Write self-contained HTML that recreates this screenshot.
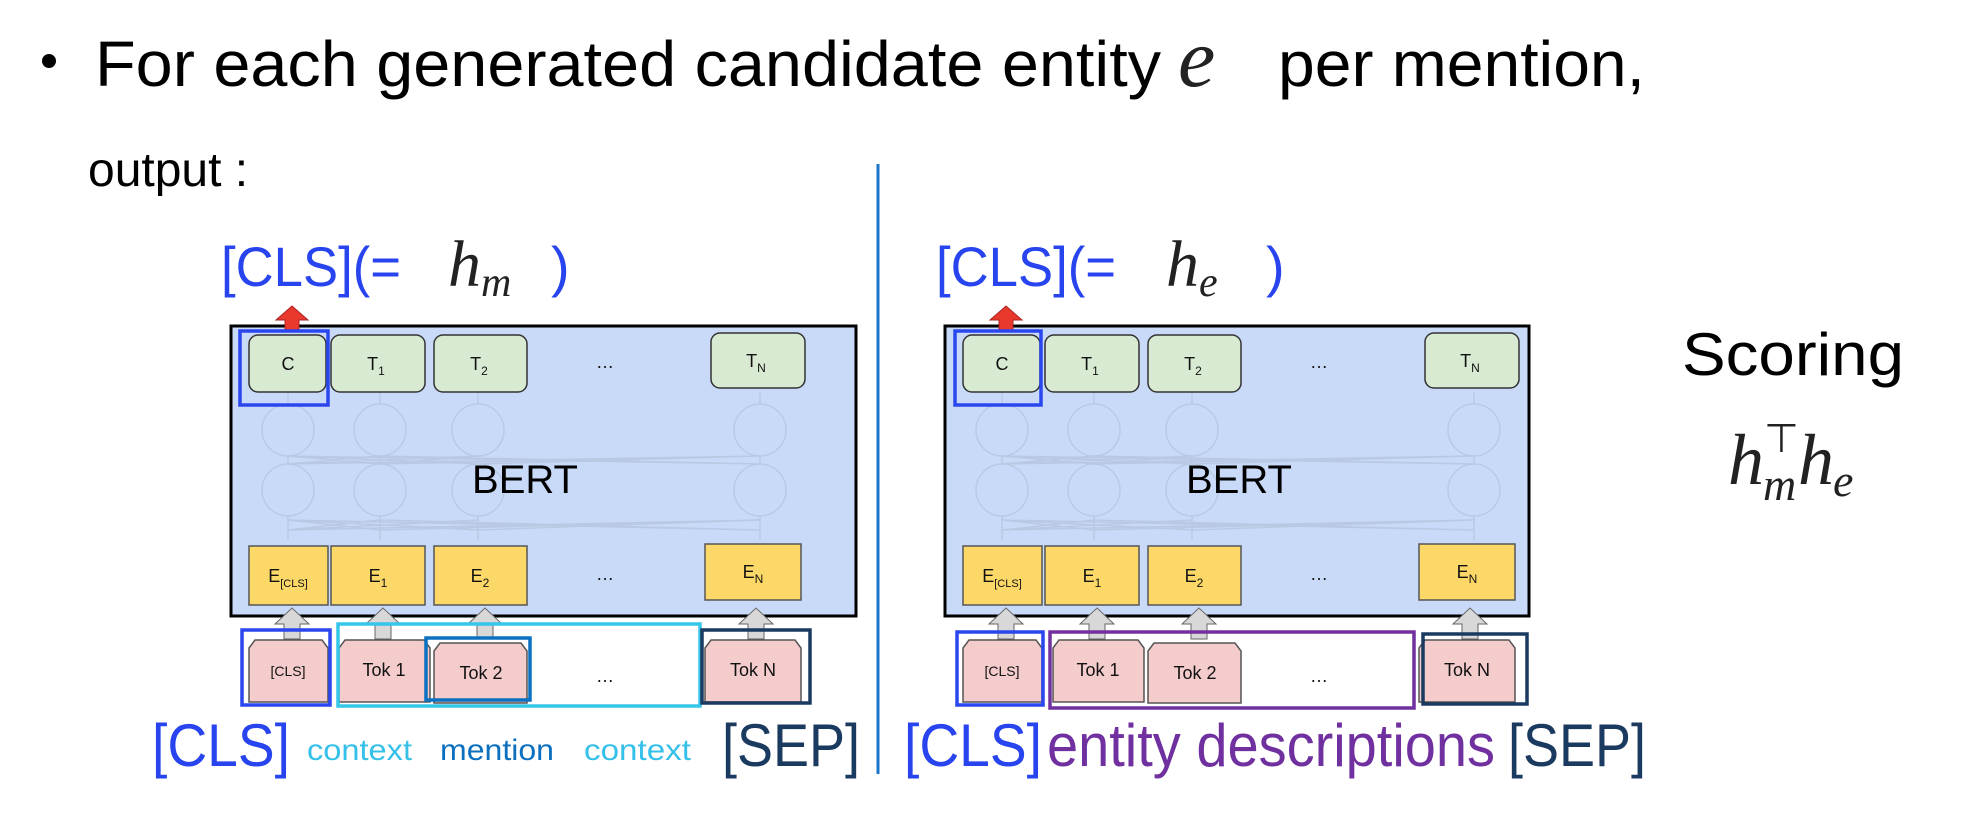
<!DOCTYPE html>
<html><head><meta charset="utf-8"><style>
html,body{margin:0;padding:0;background:#fff;}
svg{display:block;}
text{font-family:"Liberation Sans",sans-serif;}
.serif{font-family:"Liberation Serif",serif;font-style:italic;}
</style></head><body>
<svg width="1974" height="814" viewBox="0 0 1974 814" xmlns="http://www.w3.org/2000/svg">
<defs>
<g id="panel">
  <g fill="none" stroke="#b7c6de" stroke-width="1.5" opacity="0.8">
    <circle cx="288" cy="430" r="26"/><circle cx="380" cy="430" r="26"/><circle cx="478" cy="430" r="26"/><circle cx="760" cy="430" r="26"/>
    <circle cx="288" cy="490" r="26"/><circle cx="380" cy="490" r="26"/><circle cx="478" cy="490" r="26"/><circle cx="760" cy="490" r="26"/>
    <path d="M288 404V392M380 404V392M478 404V392M760 404V392M288 464V456M380 464V456M478 464V456M760 464V456M288 516V540M380 516V540M478 516V540M760 516V540"/>
    <path d="M288 464L380 456M288 464L478 456M288 464L760 456M380 464L288 456M380 464L478 456M380 464L760 456M478 464L288 456M478 464L760 456M760 464L288 456M760 464L380 456"/>
    <path d="M288 530L380 520M288 530L478 520M288 530L760 520M380 530L288 520M380 530L760 520M478 530L288 520M478 530L760 520M760 530L288 520M760 530L380 520"/>
  </g>
  <g stroke="#333" stroke-width="1.5" fill="#d9ead3">
    <rect x="249" y="335" width="77" height="57" rx="9"/>
    <rect x="331" y="335" width="94" height="57" rx="9"/>
    <rect x="434" y="335" width="93" height="57" rx="9"/>
    <rect x="711" y="333" width="94" height="55" rx="9"/>
  </g>
  <g font-size="18" fill="#111" text-anchor="middle">
    <text x="288" y="370">C</text>
    <text x="376" y="370">T<tspan font-size="12" dy="5">1</tspan></text>
    <text x="479" y="370">T<tspan font-size="12" dy="5">2</tspan></text>
    <text x="756" y="367">T<tspan font-size="12" dy="5">N</tspan></text>
    <text x="605" y="368">…</text>
    <text x="605" y="580">…</text>
    <text x="605" y="682">…</text>
  </g>
  <text x="525" y="493" font-size="40" text-anchor="middle" fill="#000">BERT</text>
  <g stroke="#555" stroke-width="1.5" fill="#fcd868">
    <rect x="249" y="546" width="79" height="59"/>
    <rect x="331" y="546" width="94" height="59"/>
    <rect x="434" y="546" width="93" height="59"/>
    <rect x="705" y="544" width="96" height="56"/>
  </g>
  <g font-size="18" fill="#111" text-anchor="middle">
    <text x="288" y="582">E<tspan font-size="11" dy="5">[CLS]</tspan></text>
    <text x="378" y="582">E<tspan font-size="12" dy="5">1</tspan></text>
    <text x="480" y="582">E<tspan font-size="12" dy="5">2</tspan></text>
    <text x="753" y="578">E<tspan font-size="12" dy="5">N</tspan></text>
  </g>
  <g fill="#d8d8d8" stroke="#666" stroke-width="1">
    <path d="M284 639V624H275L292 608L309 624H300V639Z"/>
    <path d="M375 639V624H366L383 608L400 624H391V639Z"/>
    <path d="M477 639V624H468L485 608L502 624H493V639Z"/>
    <path d="M748 639V624H739L756 608L773 624H764V639Z"/>
  </g>
  <path d="M285 331V320H276L292 306L308 320H299V331Z" fill="#e8392c" stroke="#a22" stroke-width="1"/>
  <g stroke="#555" stroke-width="1.5" fill="#f4cccc">
    <path d="M249 702V648L255 640H322L328 648V702Z"/>
    <path d="M339 702V648L345 640H424L430 648V702Z"/>
    <path d="M434 703V651L440 643H521L527 651V703Z"/>
    <path d="M705 702V648L711 640H795L801 648V702Z"/>
  </g>
  <g font-size="18" fill="#111" text-anchor="middle">
    <text x="288" y="676" font-size="14">[CLS]</text>
    <text x="384" y="676">Tok 1</text>
    <text x="481" y="679">Tok 2</text>
    <text x="753" y="676">Tok N</text>
  </g>
</g>
</defs>

<!-- header -->
<circle cx="49" cy="61" r="7" fill="#000"/>
<text x="95" y="86" font-size="64" fill="#000" textLength="1066" lengthAdjust="spacingAndGlyphs">For each generated candidate entity</text>
<text x="1178" y="86" font-size="84" class="serif" fill="#222">e</text>
<text x="1278" y="86" font-size="64" fill="#000" textLength="367" lengthAdjust="spacingAndGlyphs">per mention,</text>
<text x="88" y="186" font-size="48" fill="#000">output :</text>

<!-- left panel -->
<rect x="231" y="326" width="625" height="290" fill="#c9daf8" stroke="#000" stroke-width="3"/>
<use href="#panel"/>
<text x="221" y="286" font-size="56" fill="#2744ee" textLength="180" lengthAdjust="spacingAndGlyphs">[CLS](=</text>
<text x="448" y="286" font-size="66" class="serif" fill="#222">h<tspan font-size="42" dy="10">m</tspan></text>
<text x="551" y="286" font-size="56" fill="#2744ee">)</text>
<g fill="none" stroke-width="3.5">
  <rect x="240" y="331" width="88" height="74" stroke="#2a46ee"/>
  <rect x="242" y="630" width="88" height="75" stroke="#2a46ee"/>
  <rect x="338" y="624" width="362" height="82" stroke="#35c6ea"/>
  <rect x="426" y="638" width="104" height="62" stroke="#0a70bf"/>
  <rect x="702" y="630" width="108" height="73" stroke="#1b3a60"/>
</g>
<text x="152" y="766" font-size="60" fill="#2744ee" textLength="138" lengthAdjust="spacingAndGlyphs">[CLS]</text>
<text x="307" y="760" font-size="30" fill="#35c0ea" textLength="105" lengthAdjust="spacingAndGlyphs">context</text>
<text x="440" y="760" font-size="30" fill="#0a6fbe" textLength="114" lengthAdjust="spacingAndGlyphs">mention</text>
<text x="584" y="760" font-size="30" fill="#35c0ea" textLength="107" lengthAdjust="spacingAndGlyphs">context</text>
<text x="722" y="766" font-size="60" fill="#1b3a60" textLength="138" lengthAdjust="spacingAndGlyphs">[SEP]</text>

<!-- divider -->
<line x1="878" y1="164" x2="878" y2="774" stroke="#1a74c8" stroke-width="3"/>

<!-- right panel -->
<rect x="945" y="326" width="584" height="290" fill="#c9daf8" stroke="#000" stroke-width="3"/>
<use href="#panel" transform="translate(714,0)"/>
<text x="936" y="286" font-size="56" fill="#2744ee" textLength="180" lengthAdjust="spacingAndGlyphs">[CLS](=</text>
<text x="1166" y="286" font-size="66" class="serif" fill="#222">h<tspan font-size="42" dy="10">e</tspan></text>
<text x="1266" y="286" font-size="56" fill="#2744ee">)</text>
<g fill="none" stroke-width="3.5">
  <rect x="955" y="331" width="86" height="74" stroke="#2a46ee"/>
  <rect x="957" y="632" width="86" height="73" stroke="#2a46ee"/>
  <rect x="1050" y="632" width="364" height="76" stroke="#7030a0"/>
  <rect x="1423" y="634" width="104" height="70" stroke="#1b3a60"/>
</g>
<text x="904" y="766" font-size="60" fill="#2744ee" textLength="138" lengthAdjust="spacingAndGlyphs">[CLS]</text>
<text x="1047" y="766" font-size="60" fill="#7030a0" textLength="448" lengthAdjust="spacingAndGlyphs">entity descriptions</text>
<text x="1508" y="766" font-size="60" fill="#1b3a60" textLength="138" lengthAdjust="spacingAndGlyphs">[SEP]</text>

<!-- scoring -->
<text x="1682" y="375" font-size="60" fill="#000" textLength="222" lengthAdjust="spacingAndGlyphs">Scoring</text>
<text x="1728" y="484" font-size="72" class="serif" fill="#222">h</text>
<text x="1763" y="500" font-size="46" class="serif" fill="#222">m</text>
<text x="1764" y="452" font-size="40" fill="#222">⊤</text>
<text x="1798" y="484" font-size="72" class="serif" fill="#222">h</text>
<text x="1833" y="496" font-size="46" class="serif" fill="#222">e</text>
</svg>
</body></html>
